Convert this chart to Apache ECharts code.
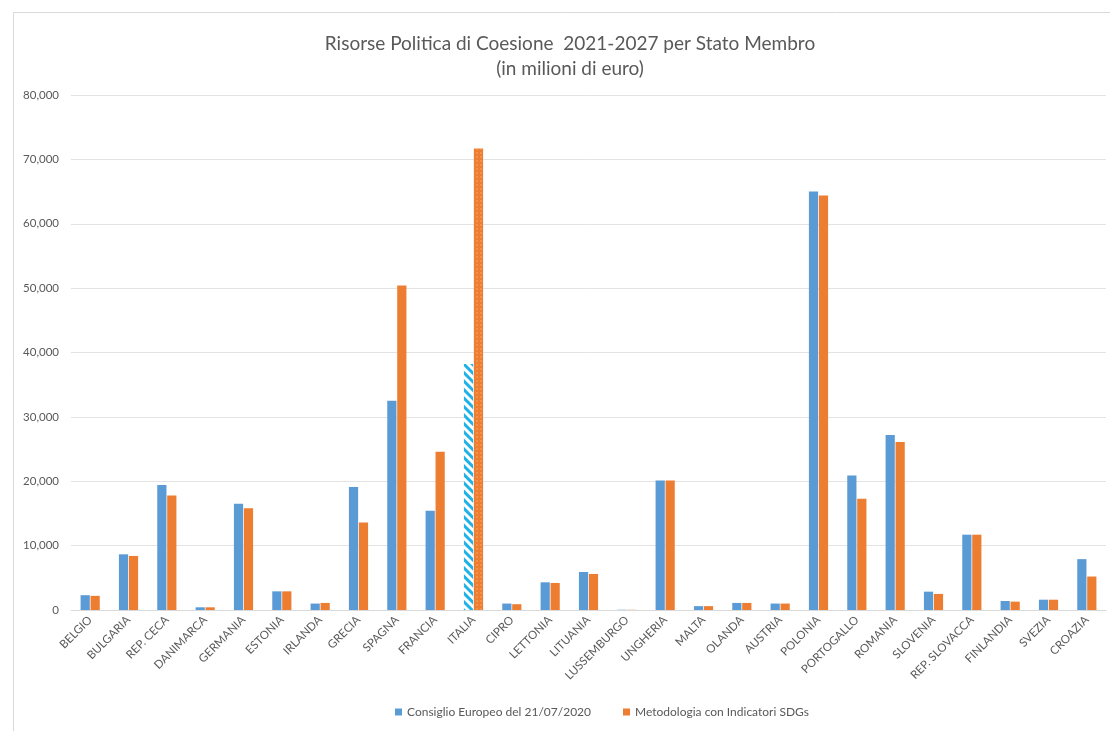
<!DOCTYPE html>
<html>
<head>
<meta charset="utf-8">
<script src="https://cdn.jsdelivr.net/npm/echarts@6/dist/echarts.min.js"></script>
<style>
html,body{margin:0;padding:0;background:#fff;}
#chart{width:1110px;height:731px;}
</style>
</head>
<body>
<div id="chart"></div>
<script>
const categories = ['BELGIO','BULGARIA','REP. CECA','DANIMARCA','GERMANIA','ESTONIA','IRLANDA','GRECIA','SPAGNA','FRANCIA','ITALIA','CIPRO','LETTONIA','LITUANIA','LUSSEMBURGO','UNGHERIA','MALTA','OLANDA','AUSTRIA','POLONIA','PORTOGALLO','ROMANIA','SLOVENIA','REP. SLOVACCA','FINLANDIA','SVEZIA','CROAZIA'];
const consiglioEuropeo = [2300, 8650, 19400, 420, 16500, 2900, 1000, 19100, 32500, 15400, 38200, 1000, 4300, 5900, 40, 20100, 600, 1100, 1000, 65000, 20900, 27200, 2850, 11700, 1400, 1600, 7900];
const metodologiaSDGs = [2200, 8400, 17800, 420, 15800, 2900, 1100, 13600, 50400, 24600, 71700, 900, 4200, 5600, 30, 20100, 600, 1100, 1000, 64400, 17300, 26100, 2500, 11700, 1300, 1600, 5200];
const yTicks = [0, 10000, 20000, 30000, 40000, 50000, 60000, 70000, 80000];
const seriesNames = ['Consiglio Europeo del 21/07/2020', 'Metodologia con Indicatori SDGs'];
const titleLines = ['Risorse Politica di Coesione  2021-2027 per Stato Membro', '(in milioni di euro)'];
const highlightCategory = 'ITALIA';

const FONT = 'Lato, "Open Sans", sans-serif';
const hIdx = categories.indexOf(highlightCategory);

const blueData = consiglioEuropeo.map((v, i) => i === hIdx ? {
  value: v,
  itemStyle: {
    color: '#ffffff',
    decal: { symbol: 'rect', color: '#1fb2e6', dashArrayX: [1, 0], dashArrayY: [3, 3], symbolSize: 1, rotation: Math.PI / 4 }
  }
} : v);
const orangeData = metodologiaSDGs.map((v, i) => i === hIdx ? {
  value: v,
  itemStyle: {
    color: '#ed7d31',
    decal: { symbol: 'circle', color: 'rgba(255,210,170,0.55)', dashArrayX: [2, 2], dashArrayY: [2, 2], symbolSize: 0.8, rotation: 0 }
  }
} : v);

const chart = echarts.init(document.getElementById('chart'), null, { renderer: 'canvas' });
chart.setOption({
  animation: false,
  backgroundColor: '#ffffff',
  graphic: [{
    type: 'rect', silent: true, z: -1,
    shape: { x: 13.5, y: 12.5, width: 1120, height: 740 },
    style: { fill: 'none', stroke: '#d9d9d9', lineWidth: 1 }
  }],
  title: {
    text: titleLines.join('\n'),
    left: 565,
    textAlign: 'center',
    top: 26,
    textStyle: { fontFamily: FONT, fontSize: 19, fontWeight: 'normal', color: '#595959', lineHeight: 25, align: 'center' }
  },
  legend: {
    bottom: 8,
    left: 390,
    itemWidth: 7, itemHeight: 7, itemGap: 32,
    icon: 'rect',
    textStyle: { fontFamily: FONT, fontSize: 12, color: '#595959' },
    data: seriesNames
  },
  grid: { left: 71, right: 4, top: 95, bottom: 121, containLabel: false },
  xAxis: {
    type: 'category',
    data: categories,
    axisLine: { show: true, lineStyle: { color: '#d9d9d9' } },
    axisTick: { show: false },
    axisLabel: { rotate: 45, interval: 0, fontFamily: FONT, fontSize: 11.5, color: '#595959', margin: 8 }
  },
  yAxis: {
    type: 'value',
    min: yTicks[0], max: yTicks[yTicks.length - 1], interval: yTicks[1] - yTicks[0],
    axisLine: { show: false },
    axisTick: { show: false },
    splitLine: { lineStyle: { color: '#e3e3e3' } },
    axisLabel: {
      fontFamily: FONT, fontSize: 11.5, color: '#595959', margin: 12,
      formatter: v => v === 0 ? '0' : v.toLocaleString('en-US')
    }
  },
  series: [
    { name: seriesNames[0], type: 'bar', data: blueData, itemStyle: { color: '#5b9bd5' }, barGap: '8%', barCategoryGap: '50%' },
    { name: seriesNames[1], type: 'bar', data: orangeData, itemStyle: { color: '#ed7d31' }, barGap: '8%', barCategoryGap: '50%' }
  ]
});
</script>
</body>
</html>
